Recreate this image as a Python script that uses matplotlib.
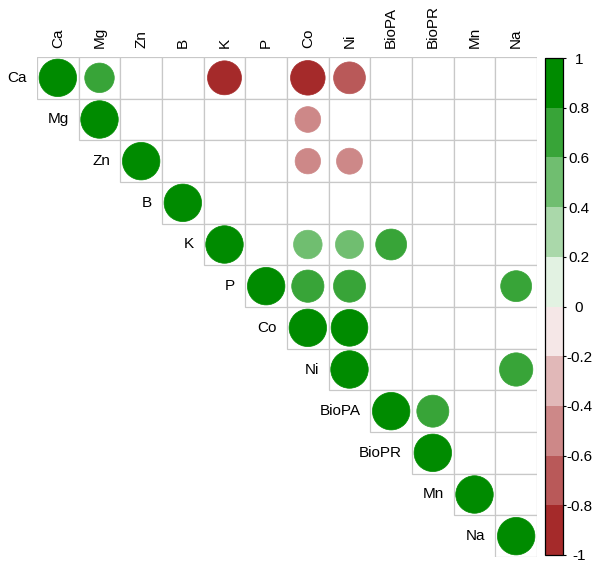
import numpy as np
import matplotlib
matplotlib.use("Agg")
import matplotlib.pyplot as plt
from matplotlib.patches import Rectangle, Circle
from matplotlib.colors import LinearSegmentedColormap, ListedColormap, BoundaryNorm
from matplotlib.cm import ScalarMappable

plt.rcParams['font.family'] = ['Liberation Sans', 'DejaVu Sans']

variables = ["Ca", "Mg", "Zn", "B", "K", "P", "Co", "Ni", "BioPA", "BioPR", "Mn", "Na"]

# significant correlations (upper triangle), non-listed cells are blank
pair_rows = ["Ca", "Ca", "Ca", "Ca", "Mg", "Zn", "Zn", "K", "K", "K",
             "P", "P", "P", "Co", "Ni", "BioPA"]
pair_cols = ["Mg", "K", "Co", "Ni", "Co", "Co", "Ni", "Co", "Ni", "BioPA",
             "Co", "Ni", "Na", "Ni", "Na", "BioPR"]
pair_vals = [0.62, -0.82, -0.85, -0.72, -0.47, -0.46, -0.48, 0.58, 0.56, 0.68,
             0.74, 0.73, 0.68, 0.96, 0.79, 0.73]

cbar_ticks = [-1, -0.8, -0.6, -0.4, -0.2, 0, 0.2, 0.4, 0.6, 0.8, 1]
cbar_labels = ["-1", "-0.8", "-0.6", "-0.4", "-0.2", "0", "0.2", "0.4", "0.6", "0.8", "1"]

n = len(variables)
W, H = 596, 566
fig = plt.figure(figsize=(W / 100, H / 100), dpi=100)

# main grid axes: pixels x 37..537, y 57..557
gx0, gy0, gsz = 37, 57, 500
ax = fig.add_axes([gx0 / W, (H - gy0 - gsz) / H, gsz / W, gsz / H])
ax.set_xlim(0, n)
ax.set_ylim(n, 0)
ax.axis("off")

base = LinearSegmentedColormap.from_list("c", ["#A52A2A", "#FFFFFF", "#008B00"])
cols10 = [base(t) for t in np.linspace(0, 1, 10)]
cmap = ListedColormap(cols10)
bounds = np.linspace(-1, 1, 11)
norm = BoundaryNorm(bounds, cmap.N)

def col_for(v):
    idx = min(int((v + 1) / 0.2), 9)
    return cols10[idx]

# grid cells
for i in range(n):
    for j in range(i, n):
        ax.add_patch(Rectangle((j, i), 1, 1, facecolor="white", edgecolor="#C8C8C8",
                               linewidth=0.9, zorder=1))

# circles: diagonal
entries = [(v, v, 1.0) for v in variables] + list(zip(pair_rows, pair_cols, pair_vals))
for r, c, v in entries:
    i = variables.index(r)
    j = variables.index(c)
    rad = 0.45 * np.sqrt(abs(v))
    ax.add_patch(Circle((j + 0.5, i + 0.5), rad, facecolor=col_for(v),
                        edgecolor=col_for(v), linewidth=0.5, zorder=3))

cell = gsz / n
# row labels
for i, v in enumerate(variables):
    ax.text(i - 10 / cell, i + 0.5, v, ha="right", va="center", fontsize=11,
            color="black")
# column labels
for j, v in enumerate(variables):
    ax.text(j + 0.5, -9 / cell, v, ha="center", va="bottom", rotation=90,
            fontsize=11, color="black")

# colorbar
cx0, cx1, cy0, cy1 = 545, 563, 58, 555
cax = fig.add_axes([cx0 / W, (H - cy1) / H, (cx1 - cx0) / W, (cy1 - cy0) / H])
sm = ScalarMappable(norm=norm, cmap=cmap)
cb = fig.colorbar(sm, cax=cax, boundaries=bounds, ticks=cbar_ticks)
cb.outline.set_linewidth(0.9)
cb.outline.set_edgecolor("black")
cax.tick_params(axis="y", length=2.5, width=0.8, pad=9, labelsize=11, colors="black")
cb.set_ticklabels(cbar_labels)
for t in cax.get_yticklabels():
    t.set_ha("center")

fig.savefig("out.png", dpi=100)
